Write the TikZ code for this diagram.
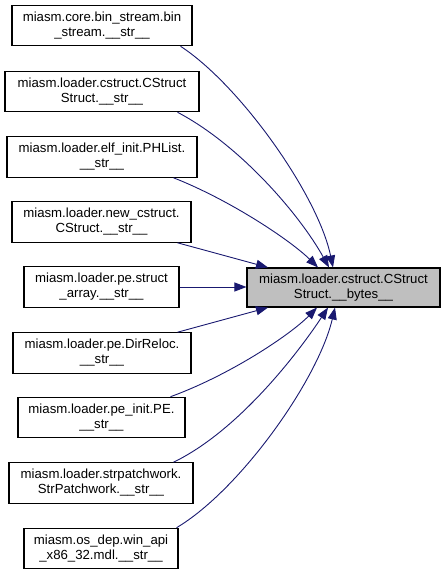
\documentclass[tikz,border=0pt]{standalone}
\usepackage{fontspec}
\setmainfont{Liberation Sans}
\usetikzlibrary{arrows.meta}
\definecolor{edgeblue}{HTML}{191970}
\definecolor{targetgray}{HTML}{BFBFBF}
\begin{document}
\begin{tikzpicture}[x=1pt,y=-1pt,
  fn/.style={draw=black, line width=1.1pt, rectangle, inner sep=0pt, minimum height=40.5pt,
    align=center, font=\fontsize{13.2}{15}\selectfont, fill=white},
  tgt/.style={fn, fill=targetgray},
  call/.style={draw=edgeblue, line width=0.9pt, -{Triangle[length=12pt,width=9pt]}, fill=none}
]
\useasboundingbox (0,0) rectangle (445,575);
\node[fn, minimum width=180pt] (b1) at (102,25.5) {miasm.core.bin\_stream.bin\\\_stream.\_\_str\_\_};
\node[fn, minimum width=194pt] (b2) at (102,91.5) {miasm.loader.cstruct.CStruct\\Struct.\_\_str\_\_};
\node[fn, minimum width=190pt] (b3) at (102,157) {miasm.loader.elf\_init.PHList.\\\_\_str\_\_};
\node[fn, minimum width=179pt] (b4) at (101.5,222) {miasm.loader.new\_cstruct.\\CStruct.\_\_str\_\_};
\node[fn, minimum width=155pt] (b5) at (101.5,287) {miasm.loader.pe.struct\\\_array.\_\_str\_\_};
\node[fn, minimum width=178pt] (b6) at (102,353) {miasm.loader.pe.DirReloc.\\\_\_str\_\_};
\node[fn, minimum width=167pt] (b7) at (101.5,417.5) {miasm.loader.pe\_init.PE.\\\_\_str\_\_};
\node[fn, minimum width=184pt] (b8) at (101,483) {miasm.loader.strpatchwork.\\StrPatchwork.\_\_str\_\_};
\node[fn, minimum width=154pt] (b9) at (101,548.5) {miasm.os\_dep.win\_api\\\_x86\_32.mdl.\_\_str\_\_};
\node[tgt, minimum width=193pt, minimum height=39pt] (t) at (343.5,287.5) {miasm.loader.cstruct.CStruct\\Struct.\_\_bytes\_\_};

\draw[call] ([xshift=-12pt]b1.south east) .. controls (240,85) and (318,195) .. ([xshift=-10.5pt]t.north);
\draw[call] ([xshift=-22pt]b2.south east) .. controls (240,145) and (300,215) .. ([xshift=-14.5pt]t.north);
\draw[call] ([xshift=-24pt]b3.south east) .. controls (230,200) and (290,240) .. ([xshift=-25.5pt]t.north);
\draw[call] ([xshift=-14pt]b4.south east) -- ([xshift=-75.5pt]t.north);
\draw[call] (b5.east) -- (t.west |- b5.east);
\draw[call] ([xshift=-14pt]b6.north east) -- ([xshift=-75.5pt]t.south);
\draw[call] ([xshift=-15pt]b7.north east) .. controls (230,375) and (290,335) .. ([xshift=-26.5pt]t.south);
\draw[call] ([xshift=-20pt]b8.north east) .. controls (240,430) and (300,350) .. ([xshift=-15.5pt]t.south);
\draw[call] ([xshift=-2pt]b9.north east) .. controls (240,490) and (318,380) .. ([xshift=-8.5pt]t.south);
\end{tikzpicture}
\end{document}
